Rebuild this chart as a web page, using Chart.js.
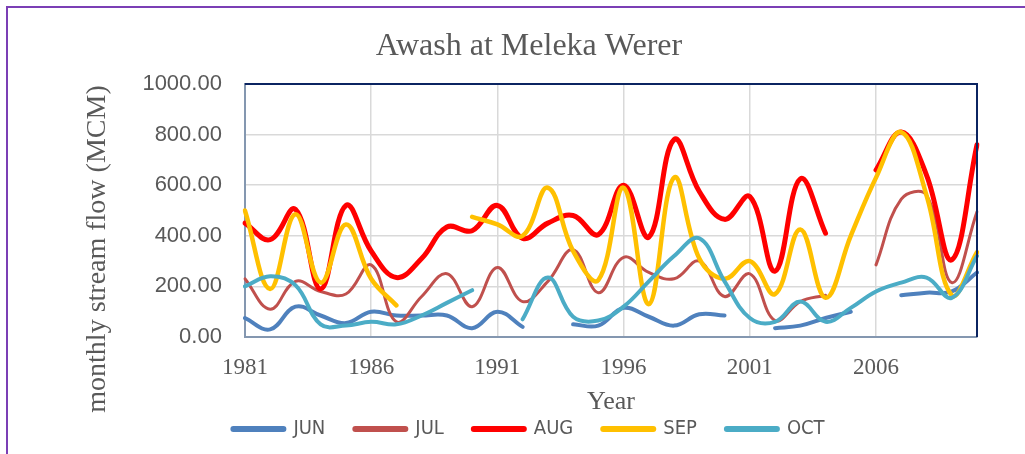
<!DOCTYPE html>
<html>
<head>
<meta charset="utf-8">
<script src="https://cdn.jsdelivr.net/npm/chart.js@4.4.1/dist/chart.umd.min.js"></script>
<style>
  html, body { margin: 0; padding: 0; background: #fff; overflow: hidden; }
  body { width: 1025px; height: 454px; position: relative; }
  .frame { position: absolute; left: 6px; top: 6px; width: 1100px; height: 500px; border-left: 2px solid #7b3fb5; border-top: 2px solid #7b3fb5; }
  #chart-flow { position: absolute; left: 8px; top: 8px; }
</style>
</head>
<body>
<div class="frame"></div>
<canvas id="chart-flow" width="1017" height="446"></canvas>
<script>
// monthly stream flow (MCM), Awash at Meleka Werer, 1981-2010 (null = no data)
var years = [1981, 1982, 1983, 1984, 1985, 1986, 1987, 1988, 1989, 1990,
  1991, 1992, 1993, 1994, 1995, 1996, 1997, 1998, 1999, 2000,
  2001, 2002, 2003, 2004, 2005, 2006, 2007, 2008, 2009, 2010];
var jun = [75, 30, 120, 85, 55, 100, 85, 85, 85, 35, 100, 40, null, 50, 45, 115, 80, 45, 90, 85,
  null, 35, 45, 75, 100, null, 165, 175, 180, 255];
var jul = [230, 110, 220, 180, 170, 285, 60, 160, 250, 120, 275, 140, 220, 345, 175, 315, 255, 230, 300, 160,
  250, 65, 140, 165, null, 285, 545, 560, 215, 495];
var aug = [450, 385, 505, 190, 520, 340, 235, 310, 435, 420, 520, 390, 450, 480, 405, 600, 395, 780, 575, 465,
  555, 260, 625, 410, null, 660, 810, 640, 305, 760];
var sep = [500, 190, 485, 215, 445, 230, 125, null, null, 475, 445, 400, 590, 340, 225, 590, 130, 630, 310, 230,
  300, 170, 425, 155, 400, 630, 810, 560, 165, 335];
var oct = [200, 240, 205, 50, 45, 60, 50, 85, 135, 185, null, 70, 235, 80, 65, 120, 220, 320, 390, 220,
  75, 60, 140, 60, 115, 180, 215, 235, 155, 320];
var yTicks = [0, 200, 400, 600, 800, 1000];

(function () {
  "use strict";

  var textGrey = "#595959";
  var serif = "'Liberation Serif', 'Times New Roman', serif";
  // trailing no-break spaces push the rotated axis title down, as in the original
  var yTitle = "monthly stream flow (MCM)" + "\u00a0".repeat(11);

  function series(label, data, color, width, order) {
    return {
      label: label,
      data: data,
      borderColor: color,
      backgroundColor: color,
      borderWidth: width,
      borderCapStyle: "round",
      tension: 0.4,
      pointRadius: 0,
      pointHoverRadius: 0,
      fill: false,
      spanGaps: false,
      order: order,
    };
  }

  // top + right edge of the plot area in dark navy
  var plotFrame = {
    id: "plotFrame",
    afterDraw: function (chart) {
      var a = chart.chartArea, ctx = chart.ctx;
      ctx.save();
      ctx.strokeStyle = "#0b2461";
      ctx.lineWidth = 2;
      ctx.beginPath();
      ctx.moveTo(a.left, a.top);
      ctx.lineTo(a.right, a.top);
      ctx.lineTo(a.right, a.bottom);
      ctx.stroke();
      ctx.restore();
    },
  };

  function boot() {
    var canvas = document.getElementById("chart-flow");
    if (!canvas || typeof Chart === "undefined") return;
    new Chart(canvas.getContext("2d"), {
      type: "line",
      data: {
        labels: years,
        datasets: [
          series("JUN", jun, "#4f81bd", 4, 5),
          series("JUL", jul, "#c0504d", 3, 4),
          series("AUG", aug, "#ff0000", 5, 3),
          series("SEP", sep, "#ffc000", 4.5, 2),
          series("OCT", oct, "#4bacc6", 4, 1),
        ],
      },
      options: {
        responsive: false,
        animation: false,
        devicePixelRatio: 1,
        layout: { padding: { left: 73, right: 48, top: 0, bottom: 5 } },
        plugins: {
          title: {
            display: true,
            text: "Awash at Meleka Werer",
            color: textGrey,
            font: { family: serif, size: 32, weight: "normal" },
            padding: { top: 19, bottom: 18.6 },
          },
          legend: {
            position: "bottom",
            labels: {
              color: textGrey,
              font: { family: "'Liberation Sans Narrow', 'DejaVu Sans Condensed', sans-serif", size: 20 },
              usePointStyle: true,
              pointStyle: "line",
              pointStyleWidth: 50,
              padding: 30,
              generateLabels: function (chart) {
                var items = Chart.defaults.plugins.legend.labels.generateLabels(chart);
                items.forEach(function (it) {
                  it.lineWidth = 6;
                  it.lineCap = "round";
                  it.pointStyle = "line";
                });
                return items.sort(function (a, b) { return a.datasetIndex - b.datasetIndex; });
              },
            },
          },
          tooltip: { enabled: false },
        },
        scales: {
          x: {
            type: "category",
            offset: false,
            grid: {
              drawTicks: false,
              lineWidth: 1.5,
              color: function (c) { return c.index % 5 === 0 ? "#d9d9d9" : "rgba(0,0,0,0)"; },
            },
            border: { color: "#8497b0", width: 2 },
            ticks: {
              autoSkip: false,
              maxRotation: 0,
              padding: 17,
              color: textGrey,
              font: { family: serif, size: 23 },
              callback: function (v, i) { return i % 5 === 0 ? String(years[i]) : ""; },
            },
            title: {
              display: true,
              text: "Year",
              color: textGrey,
              font: { family: serif, size: 26 },
              padding: { top: -12.2, bottom: -28.6 },
            },
          },
          y: {
            min: yTicks[0],
            max: yTicks[yTicks.length - 1],
            afterBuildTicks: function (scale) {
              scale.ticks = yTicks.map(function (v) { return { value: v }; });
            },
            grid: { drawTicks: false, lineWidth: 1.5, color: "#d9d9d9" },
            border: { color: "#8497b0", width: 2 },
            ticks: {
              padding: 23,
              color: textGrey,
              font: { family: "'Liberation Sans', Arial, sans-serif", size: 22 },
              callback: function (v) { return Number(v).toFixed(2); },
            },
            title: {
              display: true,
              text: yTitle,
              color: textGrey,
              font: { family: serif, size: 28 },
              padding: { top: 0, bottom: 4.8 },
            },
          },
        },
      },
      plugins: [plotFrame],
    });
  }

  if (document.readyState === "loading") {
    document.addEventListener("DOMContentLoaded", boot);
  } else {
    boot();
  }
})();
</script>
</body>
</html>
